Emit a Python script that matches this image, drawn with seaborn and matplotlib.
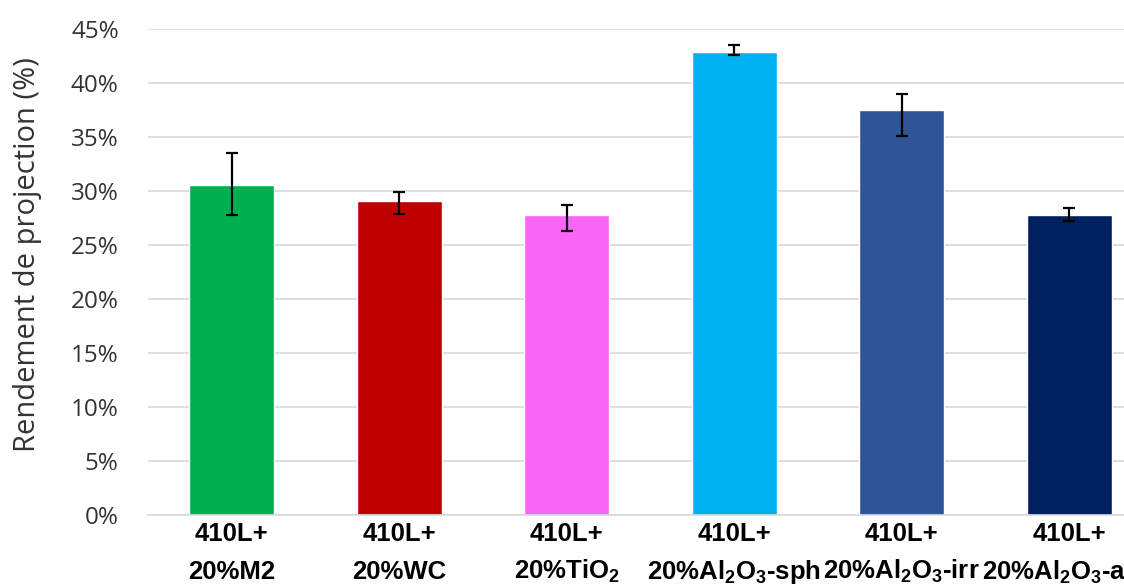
import matplotlib
matplotlib.use("Agg")
import matplotlib.pyplot as plt
import matplotlib.transforms as mtransforms
import seaborn as sns
import pandas as pd
import numpy as np
from matplotlib.ticker import PercentFormatter

# values (in %)
prefix = "410L+"
materials = ["20%M2", "20%WC", "20%TiO$_2$", "20%Al$_2$O$_3$-sph",
             "20%Al$_2$O$_3$-irr", "20%Al$_2$O$_3$-ang"]
rendement = [30.6, 29.1, 27.8, 42.9, 37.5, 27.8]
err_low = [2.8, 1.2, 1.5, 0.3, 2.4, 0.6]
err_high = [2.9, 0.8, 0.9, 0.6, 1.5, 0.6]
colors = ["#00B050", "#C00000", "#F966F5", "#00B0F0", "#2F5597", "#002060"]

sns.set_theme(style="white")
plt.rcParams["font.family"] = ["Open Sans", "DejaVu Sans"]
plt.rcParams["mathtext.fontset"] = "custom"
plt.rcParams["mathtext.bf"] = "Liberation Sans:bold"
plt.rcParams["mathtext.rm"] = "Liberation Sans:bold"
plt.rcParams["mathtext.default"] = "bf"

df = pd.DataFrame({"cat": materials, "val": rendement})

fig = plt.figure(figsize=(11.24, 5.86), dpi=100)
ax = fig.add_axes([148 / 1124, 71 / 586, 1005 / 1124, 486 / 586])

sns.barplot(data=df, x="cat", y="val", hue="cat", palette=colors,
            width=0.51, legend=False, ax=ax, saturation=1)

x = np.arange(len(materials))
ax.errorbar(x, rendement, yerr=[err_low, err_high], fmt="none",
            ecolor="black", elinewidth=1.6, capsize=4.5, capthick=1.6)

ax.set_ylim(0, 45)
ax.set_xlim(-0.5, len(materials) - 0.5)
ax.set_yticks(np.arange(0, 46, 5))
ax.yaxis.set_major_formatter(PercentFormatter(decimals=0))
ax.yaxis.grid(True, color="#d9d9d9", linewidth=1.2)
ax.set_axisbelow(True)
for s in ["top", "right", "left"]:
    ax.spines[s].set_visible(False)
ax.spines["bottom"].set_color("#d9d9d9")
ax.spines["bottom"].set_linewidth(1.2)

ax.tick_params(axis="y", length=0, pad=21, labelsize=17.5, labelcolor="#333333")
ax.tick_params(axis="x", length=0, pad=5)
ax.set_xlabel("")
ax.set_ylabel("Rendement de projection (%)", fontsize=21, color="#333333")
ax.yaxis.set_label_coords(-0.105, 0.535)

# two-row category labels: "410L+" on the tick, material below on a common baseline
xfont = dict(fontsize=18.5, fontweight="bold", family=["Liberation Sans", "DejaVu Sans"],
             color="black")
ax.set_xticks(x)
ax.set_xticklabels([prefix] * len(materials), **xfont)
trans = mtransforms.blended_transform_factory(ax.transData, ax.transAxes)
for xi, name in zip(x, materials):
    ax.text(xi, -0.131, name, transform=trans, ha="center", va="baseline",
            clip_on=False, **xfont)

fig.savefig("out.png", dpi=100)
